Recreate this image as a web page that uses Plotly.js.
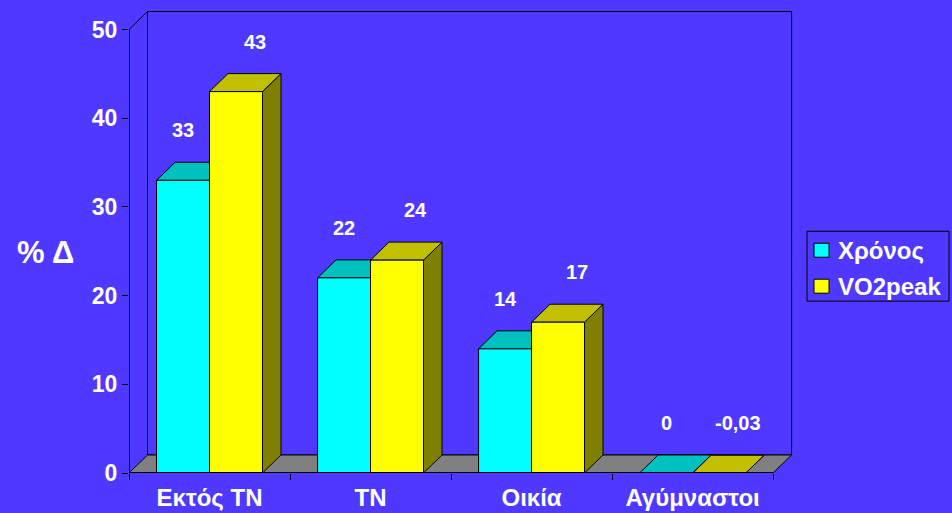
<!DOCTYPE html>
<html>
<head>
<meta charset="utf-8">
<script src="https://cdn.plot.ly/plotly-3.0.1.min.js"></script>
<style>
  html, body { margin: 0; padding: 0; background: #4f38ff; }
  #chart { width: 952px; height: 513px; }
</style>
</head>
<body>
<div id="chart"></div>
<script>
// ---- data ----
const categories = ['Εκτός ΤΝ', 'ΤΝ', 'Οικία', 'Αγύμναστοι'];
const seriesNames = ['Χρόνος', 'VO2peak'];
const chronos = [33, 22, 14, 0];
const vo2peak = [43, 24, 17, -0.03];
const yTicks = [0, 10, 20, 30, 40, 50];

// ---- styling ----
const BG = '#4f38ff';
const FONT = 'Liberation Sans, Arial, sans-serif';
const seriesValues = [chronos, vo2peak];
const frontColors = ['#00ffff', '#ffff00'];
const topColors = ['#00c0c0', '#c0c000'];
const sideColors = ['#008080', '#808000'];
const floorColor = '#808080';
const bargap = 0.342;
const barW = (1 - bargap) / 2;     // width of one bar in category units
const dx = 0.115;                  // 3D depth, x units
const dy = 2.03;                   // 3D depth, y units
const yMax = 50;

// pixel geometry of the plot area (for paper-positioned legend / title)
const M = { l: 129, r: 158, t: 9.5, b: 40 };
const W = 952, H = 513;
const pw = W - M.l - M.r, ph = H - M.t - M.b;
const px = p => (p - M.l) / pw;
const py = p => (H - M.b - p) / ph;

const traces = seriesNames.map((name, s) => ({
  type: 'bar',
  name: name,
  x: categories,
  y: seriesValues[s],
  marker: { color: frontColors[s], line: { color: '#000', width: 1 } },
  hoverinfo: 'none',
  showlegend: false
}));

const shapes = [];
const ln = { color: '#000', width: 1 };
// back wall outline
shapes.push({ type: 'rect', xref: 'x', yref: 'y', layer: 'below',
  x0: -0.5 + dx, x1: categories.length - 0.5 + dx, y0: dy, y1: yMax + dy, line: ln });
// side wall top edge
shapes.push({ type: 'line', xref: 'x', yref: 'y', layer: 'below',
  x0: -0.5, y0: yMax, x1: -0.5 + dx, y1: yMax + dy, line: ln });
// floor
const xr = categories.length - 0.5;
shapes.push({ type: 'path', xref: 'x', yref: 'y', layer: 'below',
  path: `M${-0.5},0 L${xr},0 L${xr + dx},${dy} L${-0.5 + dx},${dy} Z`,
  fillcolor: floorColor, line: ln });

// bar side and top faces
categories.forEach((c, i) => {
  seriesValues.forEach((vals, s) => {
    const v = vals[i];
    const x0 = i - barW + s * barW;
    const x1 = x0 + barW;
    shapes.push({ type: 'path', xref: 'x', yref: 'y', layer: 'below',
      path: `M${x1},0 L${x1},${v} L${x1 + dx},${v + dy} L${x1 + dx},${dy} Z`,
      fillcolor: sideColors[s], line: ln });
    shapes.push({ type: 'path', xref: 'x', yref: 'y', layer: 'below',
      path: `M${x0},${v} L${x1},${v} L${x1 + dx},${v + dy} L${x0 + dx},${v + dy} Z`,
      fillcolor: topColors[s], line: ln });
  });
});
// front y-axis line and front floor edge (half clipped -> 1px)
shapes.push({ type: 'line', xref: 'x', yref: 'y', layer: 'above',
  x0: -0.5, x1: -0.5, y0: 0, y1: yMax, line: { color: '#000', width: 2 } });
shapes.push({ type: 'line', xref: 'x', yref: 'y', layer: 'above',
  x0: -0.5, x1: xr, y0: 0, y1: 0, line: { color: '#000', width: 2 } });

// legend (drawn by hand to match the original box)
shapes.push({ type: 'rect', xref: 'paper', yref: 'paper', layer: 'above',
  x0: px(807), x1: px(949), y0: py(301), y1: py(231), fillcolor: BG, line: ln });
const legendRows = [250, 286];
seriesNames.forEach((name, s) => {
  shapes.push({ type: 'rect', xref: 'paper', yref: 'paper', layer: 'above',
    x0: px(814), x1: px(829), y0: py(legendRows[s] + 7), y1: py(legendRows[s] - 7),
    fillcolor: frontColors[s], line: ln });
});

const annotations = [];
seriesNames.forEach((name, s) => {
  annotations.push({
    xref: 'paper', yref: 'paper', x: px(836), y: py(legendRows[s]),
    text: name, showarrow: false, xanchor: 'left', yanchor: 'middle',
    font: { family: FONT, size: 24, color: '#fff', weight: 'bold' }
  });
});
categories.forEach((c, i) => {
  seriesValues.forEach((vals, s) => {
    const v = vals[i];
    annotations.push({
      x: i - barW / 2 + s * barW + s * dx, y: Math.max(v, 0), xref: 'x', yref: 'y',
      text: String(v).replace('.', ','), showarrow: false,
      yshift: 50, xanchor: 'center', yanchor: 'middle',
      font: { family: FONT, size: 20, color: '#fff', weight: 'bold' }
    });
  });
});
annotations.push({
  xref: 'paper', yref: 'paper', x: px(45), y: py(252), text: '% Δ', showarrow: false,
  xanchor: 'center', yanchor: 'middle',
  font: { family: FONT, size: 31, color: '#fff', weight: 'bold' }
});

const layout = {
  width: W, height: H,
  paper_bgcolor: BG, plot_bgcolor: BG,
  margin: { l: M.l, r: M.r, t: M.t, b: M.b, autoexpand: false },
  barmode: 'group', bargap: bargap, bargroupgap: 0,
  showlegend: false,
  xaxis: {
    type: 'category', categoryorder: 'array', categoryarray: categories,
    range: [-0.5, 3.63], tickson: 'boundaries', ticks: 'outside', ticklen: 6,
    tickcolor: '#000', tickwidth: 1, showgrid: false, showline: false, zeroline: false,
    ticklabelstandoff: 8,
    tickfont: { family: FONT, size: 24, color: '#fff', weight: 'bold' }
  },
  yaxis: {
    range: [0, 52.2], tickvals: yTicks, ticks: 'outside', ticklen: 6,
    tickcolor: '#000', tickwidth: 1, showgrid: false, showline: false, zeroline: false,
    tickfont: { family: FONT, size: 23, color: '#fff', weight: 'bold' }
  },
  shapes: shapes,
  annotations: annotations,
  font: { family: FONT, color: '#fff' }
};

Plotly.newPlot('chart', traces, layout, { displayModeBar: false, staticPlot: true });
</script>
</body>
</html>
